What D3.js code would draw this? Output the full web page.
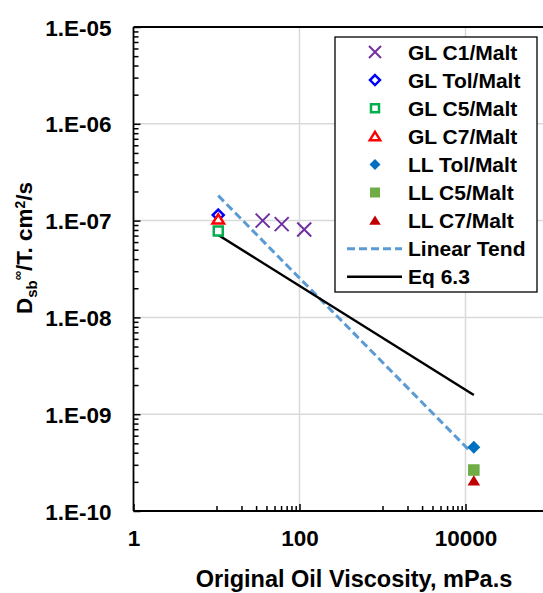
<!DOCTYPE html>
<html><head><meta charset="utf-8">
<script src="https://cdn.jsdelivr.net/npm/d3@7"></script>
<style>body{margin:0;background:#fff} text{font-family:"Liberation Sans",Arial,sans-serif;font-weight:bold;fill:#000}</style>
</head><body><svg id="c" width="543" height="593"></svg>
<script>
// ---- data ----
const xTickValues = [1, 100, 10000];
const xTickLabels = ["1", "100", "10000"];
const xMinorTicks = [10,20,30,40,50,60,70,80,90,1000,2000,3000,4000,5000,6000,7000,8000,9000];
const yTickValues = [1e-10, 1e-9, 1e-8, 1e-7, 1e-6, 1e-5];
const yTickLabels = ["1.E-10", "1.E-09", "1.E-08", "1.E-07", "1.E-06", "1.E-05"];
const glC1X = [36, 61, 114],   glC1Y = [1.0e-7, 9.2e-8, 8.1e-8];
const glTolX = [10.5],         glTolY = [1.14e-7];
const glC5X = [10.5],          glC5Y = [7.8e-8];
const glC7X = [10.5],          glC7Y = [1.03e-7];
const llTolX = [12600],        llTolY = [4.55e-10];
const llC5X = [12600],         llC5Y = [2.65e-10];
const llC7X = [12600],         llC7Y = [2.05e-10];
const trendX = [10.5, 11000],  trendY = [1.81e-7, 4.27e-10];
const eqX = [10.5, 12600],     eqY = [7.1e-8, 1.58e-9];
const legendLabels = ["GL C1/Malt","GL Tol/Malt","GL C5/Malt","GL C7/Malt","LL Tol/Malt","LL C5/Malt","LL C7/Malt","Linear Tend","Eq 6.3"];

// ---- layout ----
const L = 133.5, T = 27, B = 511, W = 543, dec = 83;
const svg = d3.select("#c");
const x = d3.scaleLog().domain([1, 1e6]).range([L, L + 6 * dec]);
const y = d3.scaleLog().domain([1e-10, 1e-5]).range([B, T]);

svg.append("defs").append("clipPath").attr("id","clip")
  .append("rect").attr("x", L).attr("y", T).attr("width", W - L).attr("height", B - T);

// gridlines
const grid = svg.append("g");
grid.selectAll("line.h").data(yTickValues.slice(1, -1)).join("line")
  .attr("x1", L).attr("x2", W).attr("y1", d => y(d)).attr("y2", d => y(d))
  .attr("stroke", "#d9d9d9").attr("stroke-width", 1.5);
grid.selectAll("line.v").data([100, 10000]).join("line")
  .attr("y1", T).attr("y2", B).attr("x1", d => x(d)).attr("x2", d => x(d))
  .attr("stroke", "#d9d9d9").attr("stroke-width", 1.5);

// y axis
const yMinor = [];
for (let e = -10; e < -5; e++) for (let m = 2; m <= 9; m++) yMinor.push(m * Math.pow(10, e));
const yAx = svg.append("g").attr("transform", `translate(${L},0)`)
  .call(d3.axisLeft(y).tickValues(yTickValues).tickSizeInner(-7).tickSizeOuter(0).tickPadding(22)
    .tickFormat((d, i) => yTickLabels[i]));
yAx.select(".domain").remove();
yAx.selectAll("text").style("font-size", "22.5px").attr("font-family", null).attr("dy","0.36em");
yAx.selectAll("line").attr("stroke", "#000").attr("stroke-width", 1.5);
const yAxMin = svg.append("g").attr("transform", `translate(${L},0)`)
  .call(d3.axisLeft(y).tickValues(yMinor).tickSizeInner(-5).tickSizeOuter(0).tickFormat(""));
yAxMin.select(".domain").remove();
yAxMin.selectAll("line").attr("stroke", "#000").attr("stroke-width", 1.5);

// x axis
const xAx = svg.append("g").attr("transform", `translate(0,${B})`)
  .call(d3.axisBottom(x).tickValues(xTickValues).tickSizeInner(-7).tickSizeOuter(0).tickPadding(19)
    .tickFormat((d, i) => xTickLabels[i]));
xAx.select(".domain").remove();
xAx.selectAll("text").style("font-size", "22.5px").attr("font-family", null);
xAx.selectAll("line").attr("stroke", "#000").attr("stroke-width", 1.5);
const xAxMin = svg.append("g").attr("transform", `translate(0,${B})`)
  .call(d3.axisBottom(x).tickValues(xMinorTicks).tickSizeInner(-5).tickSizeOuter(0).tickFormat(""));
xAxMin.select(".domain").remove();
xAxMin.selectAll("line").attr("stroke", "#000").attr("stroke-width", 1.5);

// frame
const frame = svg.append("g").attr("stroke", "#000").attr("stroke-width", 1.8);
frame.append("line").attr("x1", L).attr("x2", L).attr("y1", T).attr("y2", B);
frame.append("line").attr("x1", L).attr("x2", W).attr("y1", B).attr("y2", B);
frame.append("line").attr("x1", L).attr("x2", W).attr("y1", T).attr("y2", T);

// marker shapes
const shapes = {
  x: r => `M${-r},${-r}L${r},${r}M${-r},${r}L${r},${-r}`,
  diamond: r => `M0,${-r}L${r},0L0,${r}L${-r},0Z`,
  square: r => `M${-r},${-r}H${r}V${r}H${-r}Z`,
  triangle: r => `M0,${-r}L${r * 1.15},${r * 0.85}L${-r * 1.15},${r * 0.85}Z`
};
const series = [
  {xs: glC1X, ys: glC1Y, shape: "x", r: 7, r2: 6, fill: "none", stroke: "#7030a0", sw: 2},
  {xs: glTolX, ys: glTolY, shape: "diamond", r: 5.5, r2: 5, fill: "#fff", stroke: "#0000ff", sw: 2.5},
  {xs: glC5X, ys: glC5Y, shape: "square", r: 4.5, r2: 4, fill: "#fff", stroke: "#00b050", sw: 2.5},
  {xs: glC7X, ys: glC7Y, shape: "triangle", r: 5, r2: 4.5, fill: "#fff", stroke: "#ff0000", sw: 2.5},
  {xs: llTolX, ys: llTolY, shape: "diamond", r: 6.5, r2: 5.5, fill: "#0070c0", stroke: "none", sw: 0},
  {xs: llC5X, ys: llC5Y, shape: "square", r: 5.8, r2: 5, fill: "#70ad47", stroke: "none", sw: 0},
  {xs: llC7X, ys: llC7Y, shape: "triangle", r: 5.5, r2: 5, fill: "#c00000", stroke: "none", sw: 0}
];

const plot = svg.append("g").attr("clip-path", "url(#clip)");
const line = d3.line().x(d => x(d[0])).y(d => y(d[1]));
plot.append("path").datum(trendX.map((v, i) => [v, trendY[i]])).attr("d", line)
  .attr("fill", "none").attr("stroke", "#5b9bd5").attr("stroke-width", 3).attr("stroke-dasharray", "8,4");
plot.append("path").datum(eqX.map((v, i) => [v, eqY[i]])).attr("d", line)
  .attr("fill", "none").attr("stroke", "#000").attr("stroke-width", 2.5);

series.forEach(s => {
  plot.append("g").selectAll("path").data(s.xs.map((v, i) => [v, s.ys[i]])).join("path")
    .attr("transform", d => `translate(${x(d[0])},${y(d[1])})`)
    .attr("d", shapes[s.shape](s.r))
    .attr("fill", s.fill).attr("stroke", s.stroke).attr("stroke-width", s.sw);
});

// legend
const lg = svg.append("g");
lg.append("rect").attr("x", 335).attr("y", 37).attr("width", 202).attr("height", 255)
  .attr("fill", "#fff").attr("stroke", "#000").attr("stroke-width", 1.3);
const rowY = i => 52 + i * 28.1;
legendLabels.forEach((lab, i) => {
  const cy = rowY(i);
  if (i < series.length) {
    const s = series[i];
    lg.append("path").attr("transform", `translate(375,${cy})`).attr("d", shapes[s.shape](s.r2))
      .attr("fill", s.fill).attr("stroke", s.stroke).attr("stroke-width", s.sw);
  } else if (i === 7) {
    lg.append("line").attr("x1", 347).attr("x2", 402).attr("y1", cy).attr("y2", cy)
      .attr("stroke", "#5b9bd5").attr("stroke-width", 3).attr("stroke-dasharray", "8,4");
  } else {
    lg.append("line").attr("x1", 347).attr("x2", 402).attr("y1", cy).attr("y2", cy)
      .attr("stroke", "#000").attr("stroke-width", 2.5);
  }
  lg.append("text").attr("x", 408).attr("y", cy + 7.5).style("font-size", "21px").text(lab);
});

// axis titles
svg.append("text").attr("x", 354).attr("y", 587).attr("text-anchor", "middle")
  .style("font-size", "23.5px").text("Original Oil Viscosity, mPa.s");
const yt = svg.append("text").attr("transform", "translate(32,248) rotate(-90)")
  .attr("text-anchor", "middle").style("font-size", "22.5px");
yt.append("tspan").text("D");
yt.append("tspan").attr("dy", 5).style("font-size", "15px").text("sb");
yt.append("tspan").attr("dy", -15).style("font-size", "13px").text("∞");
yt.append("tspan").attr("dy", 10).text("/T. cm");
yt.append("tspan").attr("dy", -7).style("font-size", "14px").text("2");
yt.append("tspan").attr("dy", 7).text("/s");
</script></body></html>
